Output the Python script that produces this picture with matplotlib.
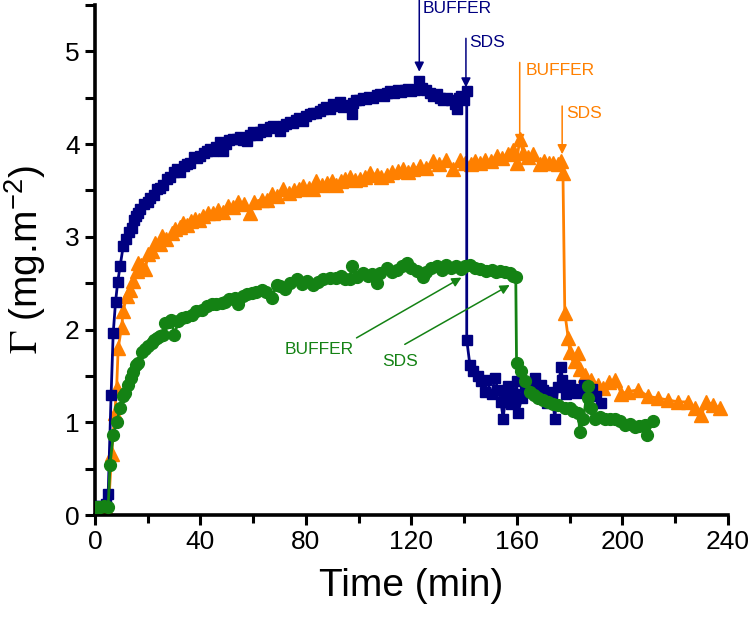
import matplotlib.pyplot as plt
from matplotlib.ticker import MultipleLocator

plt.rcParams['font.family'] = ['Liberation Sans', 'DejaVu Sans']
plt.rcParams['mathtext.fontset'] = 'stix'

# blue squares
t_blue = [0, 2, 4, 5, 6.1, 6.9, 7.8, 8.6, 9.5, 10.7, 11.8, 12.8, 13.9, 14.8, 15.5, 16.4, 17.1,
          18.5, 20.0, 20.9, 22.3, 23.5, 24.8, 25.9, 27.2, 28.5, 29.8, 31.0, 32.3, 33.6, 34.8,
          36.0, 37.5, 38.8, 40.0, 41.2, 42.3, 43.6, 44.8, 46.0, 47.3, 48.6, 49.8, 51.0, 52.4,
          53.7, 55.0, 56.2, 57.5, 58.8, 60.0, 61.3, 62.5, 63.8, 65.0, 66.3, 67.6, 68.8, 70.0,
          71.3, 72.5, 73.8, 75.0, 76.3, 77.5, 78.8, 80.0, 81.5, 82.8, 84.0, 85.3, 86.5, 87.8,
          89.0, 90.4, 91.6, 92.9, 94.2, 95.5, 97.3, 98.0, 99.0, 100.3, 101.5, 102.8, 104.0,
          105.5, 106.8, 108.0, 109.5, 110.8, 112.0, 113.5, 114.8, 116.0, 117.5, 118.8, 120.0,
          121.3, 123.0, 124.2, 125.5, 127.0, 128.3, 129.6, 131.0, 132.0, 133.5, 135.0, 136.5,
          137.2, 138.2, 139.0, 140.0, 141.0, 141.0, 142.2, 143.5, 145.3, 146.5, 147.9, 148.5,
          150.4, 151.7, 152.8, 154.0, 154.8, 155.8, 156.7, 157.8, 159.0, 159.9, 160.5, 161.8,
          163.0, 164.2, 165.5, 166.8, 168.0, 169.0, 170.0, 171.3, 172.5, 173.5, 174.4, 175.5,
          176.9, 177.2, 178.5, 180.0, 181.5, 183.0, 183.9, 185.5, 187.0, 188.5, 190.2, 192.0]
g_blue = [0.10, 0.10, 0.12, 0.23, 1.29, 1.96, 2.30, 2.51, 2.68, 2.90, 2.98, 3.05, 3.09, 3.18, 3.22,
          3.26, 3.30, 3.35, 3.38, 3.42, 3.45, 3.52, 3.53, 3.56, 3.62, 3.64, 3.70, 3.73, 3.70,
          3.76, 3.79, 3.80, 3.86, 3.85, 3.87, 3.90, 3.92, 3.95, 3.93, 3.97, 4.02, 3.92, 4.00,
          4.04, 4.05, 4.05, 4.08, 4.04, 4.03, 4.10, 4.13, 4.10, 4.13, 4.16, 4.14, 4.18, 4.20,
          4.17, 4.14, 4.20, 4.22, 4.24, 4.23, 4.26, 4.28, 4.25, 4.30, 4.32, 4.34, 4.33, 4.36,
          4.38, 4.40, 4.38, 4.43, 4.41, 4.45, 4.40, 4.42, 4.32, 4.44, 4.48, 4.47, 4.50, 4.49,
          4.51, 4.50, 4.53, 4.54, 4.52, 4.55, 4.57, 4.55, 4.58, 4.56, 4.58, 4.59, 4.57, 4.58,
          4.68, 4.60, 4.58, 4.55, 4.52, 4.54, 4.50, 4.48, 4.50, 4.47, 4.43, 4.38, 4.50, 4.52,
          4.48, 4.57, 1.89, 1.62, 1.55, 1.50, 1.45, 1.33, 1.46, 1.30, 1.48, 1.35, 1.22, 1.04,
          1.28, 1.39, 1.20, 1.30, 1.44, 1.10, 1.26, 1.38, 1.42, 1.36, 1.48, 1.30, 1.40, 1.35,
          1.21, 1.33, 1.28, 1.04, 1.38, 1.60, 1.46, 1.30, 1.40, 1.36, 1.32, 1.35, 1.40, 1.31,
          1.36, 1.28, 1.21]

# orange triangles
t_orange = [0, 2, 4, 5.0, 6.3, 7.5, 8.2, 8.8, 10.1, 10.7, 12.0, 13.3, 14.5, 15.8, 16.4, 17.5, 19.0,
            20.2, 21.5, 22.7, 24.6, 25.3, 27.0, 29.1, 30.5, 32.2, 33.5, 35.0, 36.5, 37.9, 39.5,
            41.0, 43.0, 44.9, 46.8, 48.5, 50.5, 52.3, 54.3, 56.5, 58.8, 60.5, 63.2, 65.1, 67.0,
            69.2, 71.4, 73.5, 75.5, 77.2, 79.0, 81.0, 82.8, 84.0, 86.0, 88.0, 89.8, 91.6, 93.5,
            95.0, 96.7, 98.5, 100.5, 102.5, 104.3, 106.8, 108.5, 110.6, 112.5, 114.8, 116.9,
            118.8, 120.7, 123.2, 125.5, 128.3, 130.5, 133.3, 135.9, 138.4, 140.5, 142.5, 144.3,
            146.0, 148.0, 150.2, 152.3, 154.5, 156.5, 158.6, 159.9, 161.1, 162.5, 164.3, 166.2,
            168.7, 170.5, 172.2, 173.8, 175.5, 176.9, 177.5, 178.2, 179.5, 180.1, 182.0, 183.2,
            183.9, 185.8, 188.3, 190.8, 192.7, 195.0, 197.2, 199.7, 202.2, 206.0, 209.8, 213.6,
            217.4, 221.2, 225.0, 227.5, 230.0, 231.9, 234.4, 237.0]
g_orange = [0.0, 0.0, 0.02, 0.02, 0.66, 1.10, 1.37, 1.80, 2.03, 2.20, 2.36, 2.43, 2.52, 2.63, 2.72,
            2.70, 2.65, 2.81, 2.85, 2.93, 2.92, 3.01, 2.98, 3.04, 3.08, 3.11, 3.15, 3.13, 3.17,
            3.19, 3.18, 3.22, 3.26, 3.26, 3.29, 3.27, 3.33, 3.32, 3.38, 3.35, 3.26, 3.38, 3.40,
            3.40, 3.46, 3.44, 3.51, 3.47, 3.50, 3.52, 3.55, 3.53, 3.51, 3.60, 3.56, 3.58, 3.60,
            3.56, 3.60, 3.62, 3.64, 3.61, 3.62, 3.65, 3.69, 3.67, 3.65, 3.67, 3.70, 3.71, 3.73,
            3.70, 3.73, 3.76, 3.74, 3.82, 3.78, 3.83, 3.73, 3.83, 3.80, 3.78, 3.82, 3.80, 3.83,
            3.82, 3.87, 3.85, 3.89, 3.94, 3.80, 4.05, 3.90, 3.86, 3.89, 3.78, 3.82, 3.80, 3.80,
            3.79, 3.82, 3.69, 2.18, 1.91, 1.76, 1.66, 1.75, 1.57, 1.51, 1.46, 1.40, 1.37, 1.43,
            1.46, 1.31, 1.33, 1.35, 1.28, 1.26, 1.24, 1.22, 1.22, 1.15, 1.08, 1.22, 1.19, 1.15]

# green circles
t_green = [0, 0.6, 2, 3.5, 5.0, 5.7, 6.9, 8.2, 9.5, 10.7, 11.5, 12.6, 13.5, 14.5, 15.5, 16.4, 17.7,
           18.8, 20.2, 21.5, 22.5, 23.4, 24.5, 25.9, 26.5, 28.0, 29.0, 30.1, 31.6, 33.0, 34.5,
           36.7, 38.5, 40.4, 42.3, 44.2, 46.0, 48.0, 49.3, 51.0, 53.1, 54.3, 56.0, 57.5, 59.4,
           61.0, 63.2, 65.0, 67.0, 68.9, 70.1, 72.0, 74.0, 76.5, 78.5, 80.5, 82.8, 84.5, 86.5,
           89.1, 91.6, 93.5, 95.0, 96.7, 97.3, 99.2, 101.7, 103.5, 105.0, 106.8, 108.0, 110.6,
           112.5, 114.5, 116.5, 118.2, 120.0, 122.0, 124.5, 125.7, 127.5, 129.6, 131.5, 133.3,
           135.2, 137.1, 139.0, 140.5, 142.2, 144.2, 146.2, 148.5, 150.5, 152.0, 153.6, 155.5,
           157.3, 158.6, 159.6, 159.9, 161.7, 163.0, 164.9, 166.5, 168.1, 170.0, 171.9, 173.8,
           175.7, 178.2, 180.1, 181.4, 183.3, 183.9, 185.2, 187.0, 187.0, 188.3, 189.6, 191.5,
           193.4, 195.5, 197.2, 199.0, 201.0, 202.8, 204.7, 206.5, 208.5, 209.2, 211.7]
g_green = [0.09, 0.09, 0.09, 0.10, 0.09, 0.54, 0.86, 1.00, 1.15, 1.28, 1.32, 1.40, 1.48, 1.54,
           1.62, 1.64, 1.76, 1.79, 1.82, 1.86, 1.89, 1.91, 1.93, 1.94, 2.07, 2.08, 2.10, 1.94,
           2.09, 2.12, 2.14, 2.16, 2.20, 2.21, 2.25, 2.27, 2.28, 2.29, 2.30, 2.33, 2.34, 2.27,
           2.36, 2.38, 2.39, 2.41, 2.43, 2.40, 2.34, 2.48, 2.47, 2.44, 2.50, 2.54, 2.49, 2.52,
           2.48, 2.51, 2.55, 2.56, 2.56, 2.58, 2.55, 2.54, 2.69, 2.57, 2.61, 2.58, 2.60, 2.50,
           2.61, 2.66, 2.62, 2.64, 2.68, 2.72, 2.66, 2.63, 2.57, 2.62, 2.66, 2.68, 2.64, 2.70,
           2.66, 2.68, 2.65, 2.68, 2.70, 2.66, 2.65, 2.63, 2.64, 2.62, 2.63, 2.62, 2.61, 2.58,
           2.57, 1.64, 1.55, 1.44, 1.33, 1.29, 1.26, 1.24, 1.22, 1.20, 1.19, 1.15, 1.15, 1.12,
           1.10, 0.90, 1.03, 1.39, 1.26, 1.15, 1.04, 1.06, 1.04, 1.03, 1.03, 1.01, 0.97, 0.98,
           0.95, 0.96, 0.97, 0.86, 1.01]

c_blue = '#000080'
c_orange = '#FF8000'
c_green = '#148214'

fig = plt.figure(figsize=(7.51, 6.19), dpi=100)
ax = fig.add_axes([0.1265, 0.168, 0.8425, 0.824])

ax.plot(t_blue, g_blue, '-s', color=c_blue, lw=2, ms=7.5, zorder=3)
ax.plot(t_orange, g_orange, '-^', color=c_orange, lw=2, ms=9.5, zorder=2)
ax.plot(t_green, g_green, '-o', color=c_green, lw=2, ms=8.5, zorder=4)

ax.set_xlim(0, 240)
ax.set_ylim(0, 5.5)
ax.xaxis.set_major_locator(MultipleLocator(40))
ax.xaxis.set_minor_locator(MultipleLocator(20))
ax.yaxis.set_major_locator(MultipleLocator(1))
ax.yaxis.set_minor_locator(MultipleLocator(0.5))

for s in ['top', 'right']:
    ax.spines[s].set_visible(False)
for s in ['left', 'bottom']:
    ax.spines[s].set_linewidth(2.6)
ax.tick_params(which='major', direction='out', length=7, width=2.2, labelsize=19, pad=4)
ax.tick_params(which='minor', direction='out', length=5.5, width=2.2)
ax.tick_params(axis='y', which='minor', length=7)

ax.set_xlabel('Time (min)', fontsize=28, labelpad=10)
ax.set_ylabel(r'$\Gamma$ (mg.m$\mathregular{^{-2}}$)', fontsize=28, labelpad=12)

arrow = dict(arrowstyle='-|>', lw=1.1, mutation_scale=14, shrinkA=0, shrinkB=0)

# vertical arrows with labels
ax.annotate('', xy=(123, 4.78), xytext=(123, 5.56), annotation_clip=False,
            arrowprops=dict(arrow, color=c_blue))
ax.text(124.4, 5.545, 'BUFFER', color=c_blue, fontsize=12.5, va='top', clip_on=False)
ax.annotate('', xy=(140.7, 4.61), xytext=(140.7, 5.14),
            arrowprops=dict(arrow, color=c_blue))
ax.text(141.8, 5.10, 'SDS', color=c_blue, fontsize=12.5, va='center')

ax.annotate('', xy=(161.1, 4.0), xytext=(161.1, 4.88),
            arrowprops=dict(arrow, color=c_orange))
ax.text(163.3, 4.79, 'BUFFER', color=c_orange, fontsize=12.5, va='center')
ax.annotate('', xy=(177.2, 3.89), xytext=(177.2, 4.41),
            arrowprops=dict(arrow, color=c_orange))
ax.text(178.8, 4.33, 'SDS', color=c_orange, fontsize=12.5, va='center')

ax.annotate('', xy=(139, 2.56), xytext=(99.2, 1.91),
            arrowprops=dict(arrow, color=c_green))
ax.text(84.9, 1.79, 'BUFFER', color=c_green, fontsize=12.5, ha='center', va='center')
ax.annotate('', xy=(157.3, 2.48), xytext=(117.5, 1.84),
            arrowprops=dict(arrow, color=c_green))
ax.text(115.6, 1.66, 'SDS', color=c_green, fontsize=12.5, ha='center', va='center')

fig.savefig('out.png', dpi=100)
